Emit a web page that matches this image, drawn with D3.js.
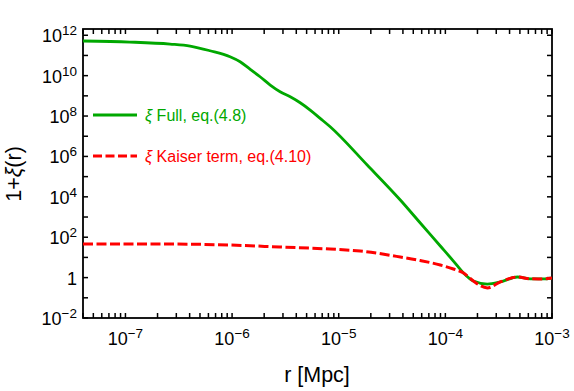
<!DOCTYPE html>
<html><head><meta charset="utf-8">
<script src="https://cdn.jsdelivr.net/npm/d3@7"></script>
<style>
body{margin:0;background:#fff;}
text{font-family:"Liberation Sans",Arial,sans-serif;}
</style></head>
<body><svg id="c" width="574" height="391"></svg>
<script>
// r [Mpc] and 1+xi(r)
const fullR = [4e-8, 1.1e-7, 2.62e-7, 4.04e-7, 6.21e-7, 9.57e-7, 1.19e-6, 1.48e-6, 1.83e-6, 2.28e-6, 2.82e-6, 3.51e-6, 4.35e-6, 5.4e-6, 6.7e-6, 8.32e-6, 1.85e-5, 3.78e-5, 5.82e-5, 8.97e-5, 1.19e-4, 1.48e-4, 1.83e-4, 2.48e-4, 3.28e-4, 4.74e-4, 6.28e-4, 8.32e-4, 1e-3];
const fullV = [5.2e11, 4.6e11, 3.66e11, 2.92e11, 1.71e11, 8.63e10, 4.88e10, 2.05e10, 8.83e9, 3.43e9, 1.6e9, 9.0e8, 4.55e8, 1.98e8, 7.7e7, 2.95e7, 3.75e5, 6.95e3, 505, 36.7, 6.6, 1.69, 0.68, 0.48, 0.61, 1.07, 0.87, 0.86, 0.95];
const kaiserR = [4e-8, 2.1e-7, 9.6e-7, 2.8e-6, 8.3e-6, 1.59e-5, 3.78e-5, 5.82e-5, 8.97e-5, 1.19e-4, 1.48e-4, 1.83e-4, 2.48e-4, 3.28e-4, 4.74e-4, 6.28e-4, 8.32e-4, 1e-3];
const kaiserV = [46, 46, 41, 32.7, 26, 20.7, 10.5, 7.0, 4.2, 2.67, 1.69, 0.68, 0.31, 0.61, 1.07, 0.87, 0.86, 0.95];
const xTickExps = [-7, -6, -5, -4, -3];
const yTickExps = [-2, 0, 2, 4, 6, 8, 10, 12];
const legendLabels = ["Full, eq.(4.8)", "Kaiser term, eq.(4.10)"];

const svg = d3.select("#c");
const L = 83, R = 552, T = 29, B = 318;
const x = d3.scaleLog().domain([4e-8, 1e-3]).range([L, R]);
const y = d3.scaleLog().domain([1e-2, 2.04e12]).range([B, T]);

const green = "#00a800", red = "#ff0000";

// minor/major ticks
const xt = [];
for (let e = -8; e <= -4; e++) for (let m = 1; m <= 9; m++) { const v = m * Math.pow(10, e); if (v >= 4e-8 && v <= 1e-3) xt.push(v); }
xt.push(1e-3);
const yt = [];
for (let e = -2; e <= 12; e++) yt.push(Math.pow(10, e));

const axG = svg.append("g").attr("stroke", "#000").attr("stroke-width", 1.5);
xt.forEach(v => {
  const px = x(v);
  axG.append("line").attr("x1", px).attr("x2", px).attr("y1", B).attr("y2", B - 5);
  axG.append("line").attr("x1", px).attr("x2", px).attr("y1", T).attr("y2", T + 5);
});
yt.forEach(v => {
  const py = y(v);
  axG.append("line").attr("x1", L).attr("x2", L + 5).attr("y1", py).attr("y2", py);
  axG.append("line").attr("x1", R).attr("x2", R - 5).attr("y1", py).attr("y2", py);
});
svg.append("rect").attr("x", L).attr("y", T).attr("width", R - L).attr("height", B - T)
  .attr("fill", "none").attr("stroke", "#000").attr("stroke-width", 1.8);

const sup = e => (e < 0 ? "\u2212" + (-e) : "" + e);
// x tick labels
xTickExps.forEach(e => {
  const t = svg.append("text").attr("x", x(Math.pow(10, e))).attr("y", 345)
    .attr("text-anchor", "middle").attr("font-size", 18);
  t.append("tspan").text("10");
  t.append("tspan").attr("dy", -7).attr("font-size", 13.5).text(sup(e));
});
// y tick labels
yTickExps.forEach(e => {
  const py = y(Math.pow(10, e));
  const t = svg.append("text").attr("x", 77).attr("y", py + 7)
    .attr("text-anchor", "end").attr("font-size", 18);
  if (e === 0) { t.text("1"); return; }
  t.append("tspan").text("10");
  t.append("tspan").attr("dy", -7).attr("font-size", 13.5).text(sup(e));
});

// axis titles
svg.append("text").attr("x", 317).attr("y", 382).attr("text-anchor", "middle")
  .attr("font-size", 21.5).text("r [Mpc]");
const yl = svg.append("text").attr("transform", "translate(20.5,174) rotate(-90)")
  .attr("text-anchor", "middle").attr("font-size", 21.5);
yl.append("tspan").text("1+");
yl.append("tspan").attr("font-style", "italic").text("ξ");
yl.append("tspan").text("(r)");

// curves
svg.append("clipPath").attr("id", "clip").append("rect")
  .attr("x", L).attr("y", T).attr("width", R - L).attr("height", B - T);
const line = d3.line().x(d => x(d[0])).y(d => y(d[1])).curve(d3.curveMonotoneX);
const gp = svg.append("g").attr("clip-path", "url(#clip)");
gp.append("path").datum(fullR.map((r, i) => [r, fullV[i]])).attr("d", line)
  .attr("fill", "none").attr("stroke", green).attr("stroke-width", 2.8);
gp.append("path").datum(kaiserR.map((r, i) => [r, kaiserV[i]])).attr("d", line)
  .attr("fill", "none").attr("stroke", red).attr("stroke-width", 3)
  .attr("stroke-dasharray", "10,3.5");

// legend
const leg = [[green, null, 115], [red, "10,3.5", 156]];
leg.forEach((d, i) => {
  const l = svg.append("line").attr("x1", 93).attr("x2", 137).attr("y1", d[2]).attr("y2", d[2])
    .attr("stroke", d[0]).attr("stroke-width", 3);
  if (d[1]) l.attr("stroke-dasharray", "9,3.5");
  const t = svg.append("text").attr("x", 145).attr("y", d[2] + 5.5).attr("font-size", 16).attr("fill", d[0]);
  t.append("tspan").attr("font-style", "italic").text("ξ");
  t.append("tspan").text(" " + legendLabels[i]);
});
</script></body></html>
